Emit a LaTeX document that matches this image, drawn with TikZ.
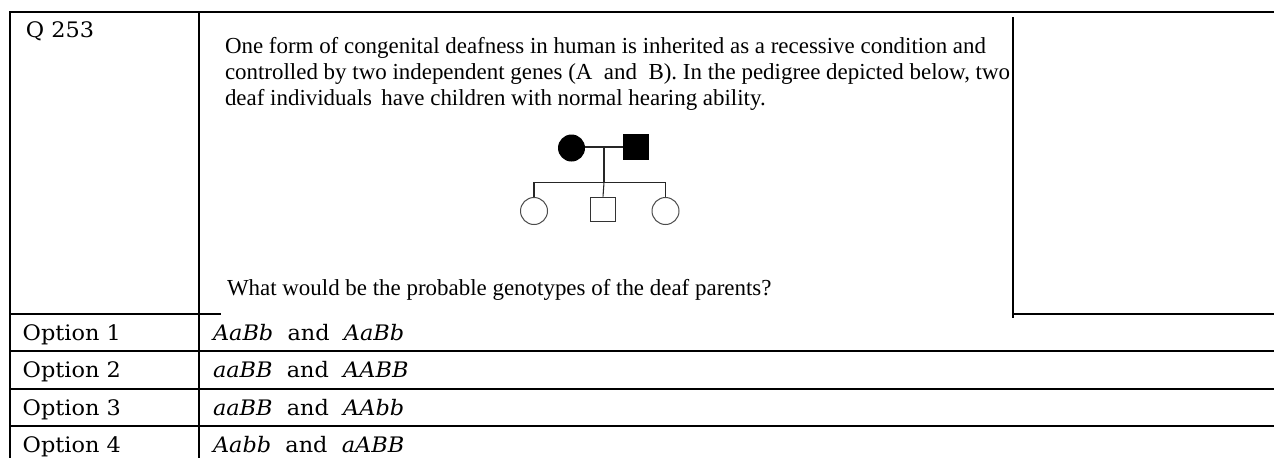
\documentclass[tikz,border=0pt]{standalone}
\usepackage{fontspec}
\setmainfont{DejaVu Serif}[FakeStretch=1.05]
\newfontfamily\timesf{Liberation Serif}
\begin{document}
\begin{tikzpicture}[x=0.75pt,y=-0.75pt,
  tbl/.style={line width=1.5pt,line cap=rect},
  imgedge/.style={line width=0.8pt},
  lbl/.style={anchor=base west,inner sep=0pt,outer sep=0pt,font=\fontsize{16}{19}\selectfont},
  qtxt/.style={anchor=base west,inner sep=0pt,outer sep=0pt,font=\timesf\fontsize{17.2}{20}\selectfont},
  pline/.style={line width=0.8pt,black!85},
  deafF/.style={circle,fill=black,inner sep=0pt,minimum size=20.25pt},
  deafM/.style={rectangle,fill=black,inner sep=0pt,minimum size=19pt},
  normF/.style={circle,draw=black!70,line width=0.75pt,inner sep=0pt,minimum size=20.25pt},
  normM/.style={rectangle,draw=black!80,line width=0.75pt,inner sep=0pt,minimum size=18.5pt}]
\useasboundingbox (0,0) rectangle (1274,457);
\fill[white] (0,0) rectangle (1274,457);
% table rules
\draw[tbl] (10,12) -- (1274,12);
\draw[tbl] (10,12) -- (10,457);
\draw[tbl] (199,12) -- (199,457);
\draw[tbl] (10,313.7) -- (220,313.7);
\draw[tbl] (1013,313.7) -- (1274,313.7);
\draw[tbl] (10,351) -- (1274,351);
\draw[tbl] (10,388.7) -- (1274,388.7);
\draw[tbl] (10,426) -- (1274,426);
\draw[imgedge] (1013,17) -- (1013,318);
% left column
\node[lbl] (q) at (26,37) {Q 253};
\node[lbl] (o1) at (22.7,340) {Option 1};
\node[lbl] (o2) at (22.7,377.5) {Option 2};
\node[lbl] (o3) at (22.7,415) {Option 3};
\node[lbl] (o4) at (22.7,452.5) {Option 4};
\node[lbl] (g1) at (213,340) {\textit{AaBb}\ \ and\ \ \textit{AaBb}};
\node[lbl] (g2) at (213,377.5) {\textit{aaBB}\ \ and\ \ \textit{AABB}};
\node[lbl] (g3) at (213,415) {\textit{aaBB}\ \ and\ \ \textit{AAbb}};
\node[lbl] (g4) at (213,452.5) {\textit{Aabb}\ \ and\ \ \textit{aABB}};
% question text
\node[qtxt] (l1) at (225,53.3) {One form of congenital deafness in human is inherited as a recessive condition and};
\node[qtxt] (l2) at (225,79.3) {controlled by two independent genes (A\ \ and\ \ B). In the pedigree depicted below, two};
\node[qtxt] (l3) at (225,105) {deaf individuals\hspace{0.15em} have children with normal hearing ability.};
\node[qtxt] (l4) at (227,295) {What would be the probable genotypes of the deaf parents?};
% pedigree
\node[deafF] (mother) at (571.5,148) {};
\node[deafM] (father) at (636,147) {};
\node[normF] (c1) at (534,211) {};
\node[normM] (c2) at (603,209.5) {};
\node[normF] (c3) at (665.5,211) {};
\coordinate (mid) at (604,147);
\coordinate (sib) at (604,182.3);
\coordinate (sibL) at (534,182.3);
\coordinate (sibR) at (665.5,182.3);
\draw[pline] (mother.east |- mid) -- (father.west |- mid);
\draw[pline] (mid) -- (sib);
\draw[pline] (sibL) -- (sibR);
\draw[pline] (sibL) -- (c1.north);
\draw[pline] (sib |- sibL) -- (c2.north);
\draw[pline] (sibR) -- (c3.north);
\end{tikzpicture}
\end{document}
